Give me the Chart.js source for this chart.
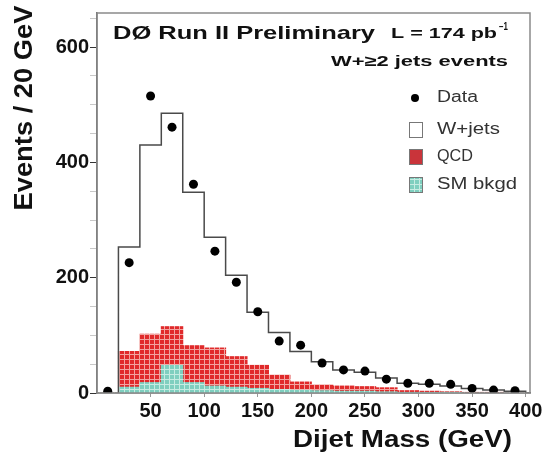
<!DOCTYPE html>
<html>
<head>
<meta charset="utf-8">
<script src="https://cdn.jsdelivr.net/npm/chart.js@4.4.1/dist/chart.umd.min.js"></script>
<style>
html,body{margin:0;padding:0;background:#fff;}
#wrap{width:548px;height:456px;position:relative;}
canvas{display:block;}
</style>
</head>
<body>
<div id="wrap"><canvas id="c" width="548" height="456"></canvas></div>
<script>
// ---- data (bins of 20 GeV) ----
const binLow      = [0,20,40,60,80,100,120,140,160,180,200,220,240,260,280,300,320,340,360,380];
const binWidth    = 20;
const dataCounts  = [3,226,515,461,362,246,192,141,90,83,52,40,38,24,17,17,15,8,5,4];
const wjetsCounts = [0,181,328,370,266,192,141,92,74,53,40,28,25,17,13,12,10,7,4,3];
const qcdCounts   = [0,62,84,67,64,66,53,40,25,14,10,9,8,7,3,2,1,1,1,0];
const smCounts    = [0,10,18,48,18,12,10,8,6,5,4,3,3,2,1,1,1,0,0,0];
const yTickValues = [0,50,100,150,200,250,300,350,400,450,500,550,600,650];
const yLabelValues= [0,200,400,600];
const xTickValues = [50,100,150,200,250,300,350,400];
const legendLabels= ['Data','W+jets','QCD','SM bkgd'];

const FONT = "'Liberation Sans', Arial, Helvetica, sans-serif";
const canvas = document.getElementById('c');
const ctx = canvas.getContext('2d');

function makePattern(base, line){
  const c = document.createElement('canvas'); c.width = 5; c.height = 5;
  const g = c.getContext('2d');
  g.fillStyle = base; g.fillRect(0,0,5,5);
  g.fillStyle = line; g.fillRect(0,4,5,1); g.fillRect(4,0,1,5);
  return ctx.createPattern(c,'repeat');
}
const redPattern  = makePattern('#e02a2b','#f2a3a0');
const tealPattern = makePattern('#7fcfbf','#c6ece2');

const centers = binLow.map(b => b + binWidth/2);
const totals  = binLow.map((b,i) => wjetsCounts[i] + qcdCounts[i] + smCounts[i]);
// stepped outline of the full stack, built from the bins
const outline = [];
let started = false;
binLow.forEach((b,i) => {
  if (!started && totals[i] > 0) { outline.push({x:b, y:0}); started = true; }
  if (started) outline.push({x:b, y:totals[i]});
});
const lastEdge = binLow[binLow.length-1] + binWidth;
outline.push({x:lastEdge, y:totals[totals.length-1]});
outline.push({x:lastEdge, y:0});

const barCommon = {stack:'bkg', borderWidth:0, barPercentage:1, categoryPercentage:1, order:2, inflateAmount:0.5};

function fitText(c, text, x, y, width, size, weight, align){
  c.save();
  c.font = `${weight} ${size}px ${FONT}`;
  const w = c.measureText(text).width;
  const sx = width / w;
  c.translate(x, y);
  c.scale(sx, 1);
  c.textBaseline = 'middle';
  c.textAlign = align || 'left';
  c.fillText(text, 0, 0);
  c.restore();
}

const decor = {
  id:'decor',
  afterDraw(chart){
    const c = chart.ctx;
    const a = chart.chartArea;
    c.save();
    // frame
    c.strokeStyle = '#8a8a8a'; c.lineWidth = 1.5;
    c.strokeRect(a.left, a.top, a.right - a.left, a.bottom - a.top);
    c.fillStyle = '#111';
    // header texts
    fitText(c, 'DØ Run II Preliminary', 113, 34, 262, 19, 'bold');
    fitText(c, 'L = 174 pb', 391, 34, 106, 14, 'bold');
    fitText(c, '−1', 499, 27, 9, 10, 'bold');
    fitText(c, 'W+≥2 jets events', 331, 62, 177, 15, 'bold');
    // axis titles
    c.save();
    c.translate(25, 108);
    c.rotate(-Math.PI/2);
    fitText(c, 'Events / 20 GeV', 0, 0, 205, 25, 'bold', 'center');
    c.restore();
    fitText(c, 'Dijet Mass (GeV)', 293, 441, 219, 23, 'bold');
    // legend
    c.fillStyle = '#000';
    c.beginPath(); c.arc(415, 98, 4, 0, Math.PI*2); c.fill();
    c.lineWidth = 1;
    c.fillStyle = '#fff'; c.strokeStyle = '#777';
    c.fillRect(409.5,122.5,13,15); c.strokeRect(409.5,122.5,13,15);
    c.fillStyle = '#c9343a'; c.fillRect(409.5,149.5,13,15); c.strokeRect(409.5,149.5,13,15);
    c.fillStyle = tealPattern; c.fillRect(409.5,177.5,13,15); c.strokeRect(409.5,177.5,13,15);
    c.fillStyle = '#333';
    const ly = [98,130,157,185], lw = [41,63,36,80];
    legendLabels.forEach((t,i) => fitText(c, t, 437, ly[i], lw[i], 16, 'normal'));
    c.restore();
  }
};

new Chart(ctx, {
  type:'bar',
  data:{
    datasets:[
      Object.assign({label:'SM bkgd', data:centers.map((x,i)=>({x, y:smCounts[i]})), backgroundColor:tealPattern}, barCommon),
      Object.assign({label:'QCD', data:centers.map((x,i)=>({x, y:qcdCounts[i]})), backgroundColor:redPattern}, barCommon),
      Object.assign({label:'W+jets', data:centers.map((x,i)=>({x, y:wjetsCounts[i]})), backgroundColor:'#ffffff'}, barCommon),
      {type:'line', label:'stack', data:outline, stack:'outline', stepped:true, borderColor:'#4a4a4a', borderWidth:1.5,
       pointRadius:0, fill:false, order:1},
      {type:'scatter', label:'Data', data:centers.map((x,i)=>({x, y:dataCounts[i]})), stack:'data',
       backgroundColor:'#000', borderWidth:0, pointRadius:4.5, order:0}
    ]
  },
  options:{
    responsive:false, animation:false,
    layout:{padding:{left:0, right:18, top:13, bottom:0}},
    plugins:{legend:{display:false}, tooltip:{enabled:false}},
    scales:{
      x:{type:'linear', min:0, max:404, offset:false,
         afterBuildTicks(s){ s.ticks = xTickValues.map(v=>({value:v})); },
         afterFit(s){ s.height = 63; },
         ticks:{autoSkip:false, maxRotation:0, padding:2, color:'#111', font:{family:FONT, weight:'bold', size:20}},
         grid:{drawOnChartArea:false, offset:false, tickLength:4, tickColor:'#999'},
         border:{color:'#666', width:1.5}},
      y:{type:'linear', stacked:true, min:0, max:659,
         afterBuildTicks(s){ s.ticks = yTickValues.map(v=>({value:v})); },
         afterFit(s){ s.width = 97; },
         ticks:{autoSkip:false, padding:1, color:'#111', font:{family:FONT, weight:'bold', size:20},
                callback:(v)=> yLabelValues.includes(v) ? String(v) : ''},
         grid:{drawOnChartArea:false, tickLength:7,
               tickColor:(c)=> (c.tick && yLabelValues.includes(c.tick.value)) ? '#333' : '#c8c8c8'},
         border:{color:'#666', width:1.5}}
    }
  },
  plugins:[decor]
});
</script>
</body>
</html>
